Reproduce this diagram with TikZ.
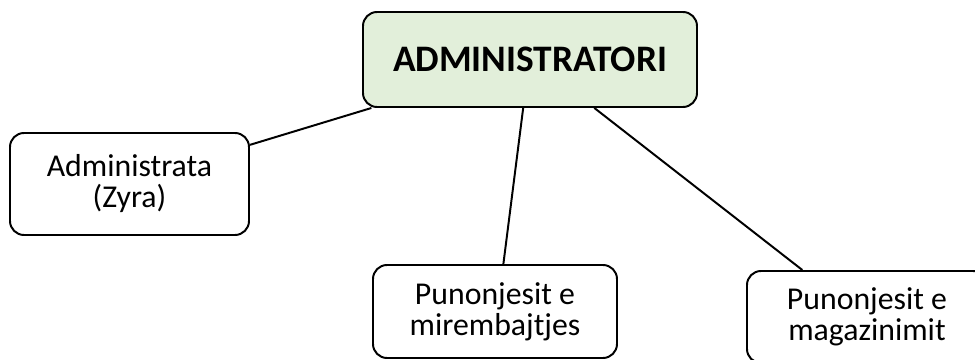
\documentclass[tikz,border=0pt]{standalone}
\usepackage{fontspec}
\setmainfont{Carlito}
\usepackage{tikz}
\usetikzlibrary{positioning}
\definecolor{admgreen}{RGB}{226,239,218}
\tikzset{
    unit/.style={
        draw,
        rectangle,
        rounded corners=0.35cm,
        line width=1.4pt,
        fill=white,
        align=center,
        inner sep=0pt,
        font=\fontsize{22.6}{22}\selectfont
    },
    link/.style={
        draw,
        line width=1.4pt
    }
}

\begin{document}
\begin{tikzpicture}[x=0.025cm, y=0.025cm]
  \useasboundingbox (0,0) rectangle (975,360);
  % Head of the structure
  \node[unit, fill=admgreen, minimum width=334*0.025cm, minimum height=95*0.025cm,
        font=\fontsize{26.6}{28}\selectfont\bfseries] (adm) at (530,300.5) {ADMINISTRATORI};
  
  % Units under the head
  \node[unit, minimum width=239*0.025cm, minimum height=102*0.025cm] (zyra) at (129.5,176) {Administrata\\(Zyra)};
  \node[unit, minimum width=244*0.025cm, minimum height=93*0.025cm] (mir) at (495,48.5) {Punonjesit e\\mirembajtjes};
  \node[unit, minimum width=240*0.025cm, minimum height=92*0.025cm] (mag) at (867,43) {Punonjesit e\\magazinimit};
  
  % Links from the head
  \draw[link] (adm.197.1) -- (zyra.18.1);
  \draw[link] (adm.262.8) -- (mir.80.2);
  \draw[link] (adm.-37) -- (mag.144.3);
\end{tikzpicture}
\end{document}
